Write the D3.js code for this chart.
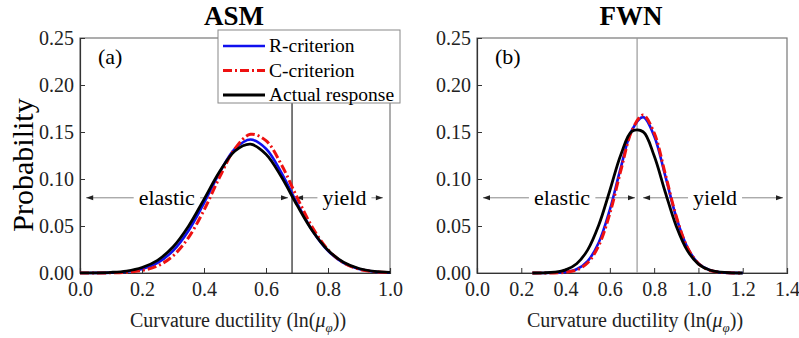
<!DOCTYPE html>
<html>
<head>
<meta charset="utf-8">
<script src="https://cdn.jsdelivr.net/npm/d3@7"></script>
<style>
  body { margin: 0; background: #fff; }
  text { font-family: "Liberation Serif", "Times New Roman", serif; }
</style>
</head>
<body>
<svg id="chart" width="799" height="338"></svg>
<script>
// ASM panel (a)
const asmX = [0, 0.05, 0.10, 0.15, 0.20, 0.25, 0.30, 0.35, 0.40, 0.45, 0.50, 0.55, 0.60, 0.65, 0.70, 0.75, 0.80, 0.85, 0.90, 0.95, 1.00];
const asmR = [0.0000, 0.0001, 0.0004, 0.0014, 0.0042, 0.0107, 0.0236, 0.0450, 0.0744, 0.1066, 0.1322, 0.1420, 0.1322, 0.1066, 0.0744, 0.0450, 0.0236, 0.0107, 0.0042, 0.0014, 0.0004];
const asmC = [0.0000, 0.0000, 0.0002, 0.0008, 0.0027, 0.0075, 0.0182, 0.0377, 0.0669, 0.1017, 0.1324, 0.1475, 0.1408, 0.1151, 0.0806, 0.0483, 0.0248, 0.0109, 0.0041, 0.0013, 0.0004];
const asmA = [0.0001, 0.0002, 0.0007, 0.0021, 0.0058, 0.0135, 0.0277, 0.0498, 0.0783, 0.1077, 0.1298, 0.1370, 0.1264, 0.1021, 0.0722, 0.0447, 0.0242, 0.0115, 0.0048, 0.0017, 0.0006];

// FWN panel (b)
const fwnX = [0.25, 0.30, 0.35, 0.40, 0.45, 0.50, 0.55, 0.60, 0.65, 0.70, 0.75, 0.80, 0.85, 0.90, 0.95, 1.00, 1.05, 1.10, 1.15, 1.20];
const fwnR = [0.0000, 0.0000, 0.0002, 0.0010, 0.0040, 0.0127, 0.0325, 0.0674, 0.1127, 0.1522, 0.1658, 0.1458, 0.1035, 0.0593, 0.0274, 0.0102, 0.0031, 0.0007, 0.0001, 0.0000];
const fwnC = [0.0000, 0.0000, 0.0001, 0.0008, 0.0032, 0.0109, 0.0293, 0.0634, 0.1095, 0.1517, 0.1680, 0.1490, 0.1057, 0.0601, 0.0273, 0.0100, 0.0029, 0.0007, 0.0001, 0.0000];
const fwnA = [0.0000, 0.0002, 0.0009, 0.0033, 0.0099, 0.0246, 0.0510, 0.0878, 0.1261, 0.1508, 0.1503, 0.1247, 0.0862, 0.0497, 0.0238, 0.0095, 0.0032, 0.0009, 0.0002, 0.0000];

const probTicks = [0, 0.05, 0.10, 0.15, 0.20, 0.25];
const asmTicks = [0, 0.2, 0.4, 0.6, 0.8, 1.0];
const fwnTicks = [0, 0.2, 0.4, 0.6, 0.8, 1.0, 1.2, 1.4];

const seriesNames = ["R-criterion", "C-criterion", "Actual response"];
const asmLimit = 0.684;
const fwnLimit = 0.723;

const svg = d3.select("#chart");
const plotTop = 38, plotBottom = 273;
const serif = '"Liberation Serif", "Times New Roman", serif';

const styles = [
  { color: "#1010ee", width: 2.6, dash: null },
  { color: "#ee1111", width: 3, dash: "9,3,2,3" },
  { color: "#000", width: 2.8, dash: null }
];

const panels = [
  { title: "ASM", tag: "(a)", left: 80, right: 390, xmax: 1.0, ticks: asmTicks, xs: asmX,
    series: [asmR, asmC, asmA], limit: asmLimit, limitColor: "#222",
    elastic: [0.02, 0.671, 0.28], yieldA: [0.697, 0.977, 0.853], legend: true },
  { title: "FWN", tag: "(b)", left: 477, right: 787, xmax: 1.4, ticks: fwnTicks, xs: fwnX,
    series: [fwnR, fwnC, fwnA], limit: fwnLimit, limitColor: "#999",
    elastic: [0.027, 0.7135, 0.384], yieldA: [0.75, 1.382, 1.075], legend: false }
];

const y = d3.scaleLinear().domain([0, 0.25]).range([plotBottom, plotTop]);

function arrowHead(g, x, yy, dir) {
  g.append("path")
    .attr("d", `M${x},${yy} L${x - dir * 7},${yy - 2.5} L${x - dir * 7},${yy + 2.5} Z`)
    .attr("fill", "#222");
}

function annot(g, x, x1, x2, xt, label) {
  const yy = y(0.08);
  g.append("line")
    .attr("x1", x(x1)).attr("x2", x(x2)).attr("y1", yy).attr("y2", yy)
    .attr("stroke", "#888").attr("stroke-width", 1);
  arrowHead(g, x(x1), yy, -1);
  arrowHead(g, x(x2), yy, 1);
  const t = g.append("text")
    .attr("x", x(xt)).attr("y", yy).attr("dy", "0.33em")
    .attr("text-anchor", "middle").attr("font-size", 22).text(label);
  const bb = t.node().getBBox();
  g.insert("rect", () => t.node())
    .attr("x", bb.x - 5).attr("y", bb.y + 3).attr("width", bb.width + 10).attr("height", bb.height - 6)
    .attr("fill", "#fff");
}

panels.forEach((p, pi) => {
  const x = d3.scaleLinear().domain([0, p.xmax]).range([p.left, p.right]);
  const g = svg.append("g");

  // frame
  g.append("rect")
    .attr("x", p.left).attr("y", plotTop)
    .attr("width", p.right - p.left).attr("height", plotBottom - plotTop)
    .attr("fill", "none").attr("stroke", "#777").attr("stroke-width", 1.2);

  // axes
  const xa = g.append("g").attr("transform", `translate(0,${plotBottom})`)
    .call(d3.axisBottom(x).tickValues(p.ticks).tickSize(-5).tickPadding(9).tickFormat(d3.format(".1f")));
  const ya = g.append("g").attr("transform", `translate(${p.left},0)`)
    .call(d3.axisLeft(y).tickValues(probTicks).tickSize(-5).tickPadding(6).tickFormat(d3.format(".2f")));
  [xa, ya].forEach(a => {
    a.attr("font-family", serif).attr("font-size", 20);
    a.select(".domain").attr("stroke", "#333").attr("stroke-width", 1.2);
    a.selectAll(".tick line").attr("stroke", "#333");
    a.selectAll(".tick text").attr("fill", "#222");
  });

  // annotations
  annot(g, x, p.elastic[0], p.elastic[1], p.elastic[2], "elastic");
  annot(g, x, p.yieldA[0], p.yieldA[1], p.yieldA[2], "yield");

  // limit line
  g.append("line")
    .attr("x1", x(p.limit)).attr("x2", x(p.limit)).attr("y1", plotTop).attr("y2", plotBottom)
    .attr("stroke", p.limitColor).attr("stroke-width", 1.2);

  // curves
  const line = d3.line().x((d, i) => x(p.xs[i])).y(d => y(d)).curve(d3.curveCatmullRom);
  p.series.forEach((s, si) => {
    g.append("path").datum(s)
      .attr("d", line)
      .attr("fill", "none")
      .attr("stroke", styles[si].color)
      .attr("stroke-width", styles[si].width)
      .attr("stroke-dasharray", styles[si].dash);
  });

  // title and tag
  g.append("text").attr("x", (p.left + p.right) / 2 - 1).attr("y", 25)
    .attr("text-anchor", "middle").attr("font-size", 27).attr("font-weight", "bold").text(p.title);
  g.append("text").attr("x", p.left + 18).attr("y", 64)
    .attr("font-size", 22).text(p.tag);

  // x label
  const xl = g.append("text").attr("x", (p.left + p.right) / 2 + 3).attr("y", 327)
    .attr("text-anchor", "middle").attr("font-size", 20).attr("fill", "#222");
  xl.append("tspan").text("Curvature ductility (ln(");
  xl.append("tspan").attr("font-style", "italic").text("\u03bc");
  xl.append("tspan").attr("font-style", "italic").attr("font-size", 13).attr("dy", 5).text("\u03c6");
  xl.append("tspan").attr("dy", -5).text("))");

  if (p.legend) {
    const lg = g.append("g");
    lg.append("rect").attr("x", 218).attr("y", 30).attr("width", 182).attr("height", 73)
      .attr("fill", "#fff").attr("stroke", "#888").attr("stroke-width", 1);
    seriesNames.forEach((n, i) => {
      const ly = 46 + i * 24.5;
      lg.append("line").attr("x1", 223).attr("x2", 265).attr("y1", ly).attr("y2", ly)
        .attr("stroke", styles[i].color).attr("stroke-width", styles[i].width)
        .attr("stroke-dasharray", styles[i].dash);
      lg.append("text").attr("x", 269).attr("y", ly).attr("dy", "0.33em")
        .attr("font-size", 19.5).text(n);
    });
  }
});

// y label
svg.append("text")
  .attr("transform", "translate(33,165) rotate(-90)")
  .attr("text-anchor", "middle").attr("font-size", 30).text("Probability");
</script>
</body>
</html>
